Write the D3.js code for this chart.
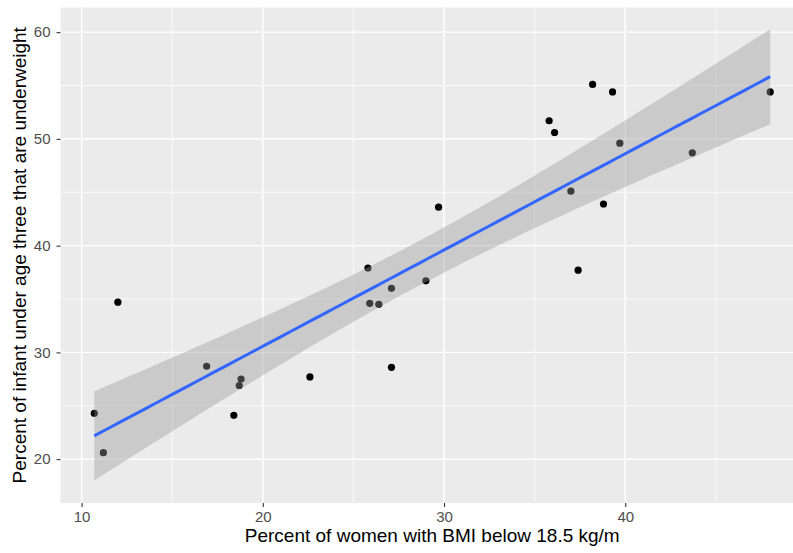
<!DOCTYPE html>
<html>
<head>
<meta charset="utf-8">
<script src="https://cdn.jsdelivr.net/npm/d3@7"></script>
<style>
  body { margin: 0; background: #fff; }
  svg { display: block; font-family: "Liberation Sans", Arial, sans-serif; }
</style>
</head>
<body>
<svg></svg>
<script>
// women with BMI < 18.5 (%) vs. infants under three underweight (%)
var womenBMI = [10.7, 11.2, 12.0, 16.9, 18.4, 18.7, 18.8, 22.6, 25.8, 25.9, 26.4, 27.1, 27.1,
                29.0, 29.7, 35.8, 36.1, 37.0, 37.4, 38.2, 38.8, 39.3, 39.7, 43.7, 48.0];
var infantUnder = [24.3, 20.6, 34.7, 28.7, 24.1, 26.9, 27.5, 27.7, 37.9, 34.6, 34.5, 36.0, 28.6,
                   36.7, 43.6, 51.7, 50.6, 45.1, 37.7, 55.1, 43.9, 54.4, 49.6, 48.7, 54.4];
var xTicks = [10, 20, 30, 40];
var yTicks = [20, 30, 40, 50, 60];
var xMinor = [15, 25, 35, 45];
var yMinor = [25, 35, 45, 55];

var width = 793, height = 553;
var margin = {left: 60.5, top: 7.5, right: -11, bottom: 50};

var data = womenBMI.map(function(d, i){ return {x: d, y: infantUnder[i]}; });

// linear fit + 95% confidence band, like geom_smooth(method = "lm")
var n = data.length;
var mx = d3.mean(data, function(d){return d.x;});
var my = d3.mean(data, function(d){return d.y;});
var sxx = d3.sum(data, function(d){return (d.x-mx)*(d.x-mx);});
var sxy = d3.sum(data, function(d){return (d.x-mx)*(d.y-my);});
var slope = sxy / sxx;
var icpt = my - slope * mx;
var sse = d3.sum(data, function(d){var r = d.y - (icpt + slope*d.x); return r*r;});
var se = Math.sqrt(sse / (n - 2));
var tval = 2.0687; // qt(0.975, 23)
var xExt = d3.extent(womenBMI);
var fit = d3.range(80).map(function(i){
  var xv = xExt[0] + (xExt[1]-xExt[0]) * i / 79;
  var yh = icpt + slope * xv;
  var s = se * Math.sqrt(1/n + (xv-mx)*(xv-mx)/sxx);
  return {x: xv, y: yh, lo: yh - tval*s, hi: yh + tval*s};
});

var x = d3.scaleLinear()
  .domain([8.835, 49.865])
  .range([margin.left, width - margin.right]);
var y = d3.scaleLinear()
  .domain([15.89, 62.31])
  .range([height - margin.bottom, margin.top]);

var svg = d3.select("svg")
  .attr("width", width)
  .attr("height", height);

svg.append("rect")
  .attr("x", x.range()[0]).attr("y", y.range()[1])
  .attr("width", x.range()[1]-x.range()[0])
  .attr("height", y.range()[0]-y.range()[1])
  .attr("fill", "#EBEBEB");

var grid = svg.append("g");
grid.selectAll(".xmin").data(xMinor).enter().append("line")
  .attr("x1", function(d){return x(d);}).attr("x2", function(d){return x(d);})
  .attr("y1", y.range()[0]).attr("y2", y.range()[1])
  .attr("stroke", "#fff").attr("stroke-width", 0.7);
grid.selectAll(".ymin").data(yMinor).enter().append("line")
  .attr("y1", function(d){return y(d);}).attr("y2", function(d){return y(d);})
  .attr("x1", x.range()[0]).attr("x2", x.range()[1])
  .attr("stroke", "#fff").attr("stroke-width", 0.7);
grid.selectAll(".xmaj").data(xTicks).enter().append("line")
  .attr("x1", function(d){return x(d);}).attr("x2", function(d){return x(d);})
  .attr("y1", y.range()[0]).attr("y2", y.range()[1])
  .attr("stroke", "#fff").attr("stroke-width", 1.4);
grid.selectAll(".ymaj").data(yTicks).enter().append("line")
  .attr("y1", function(d){return y(d);}).attr("y2", function(d){return y(d);})
  .attr("x1", x.range()[0]).attr("x2", x.range()[1])
  .attr("stroke", "#fff").attr("stroke-width", 1.4);

// points first, ribbon drawn over them (as ggplot does)
svg.append("g").selectAll("circle").data(data).enter().append("circle")
  .attr("cx", function(d){return x(d.x);})
  .attr("cy", function(d){return y(d.y);})
  .attr("r", 3.6)
  .attr("fill", "#000");

var area = d3.area()
  .x(function(d){return x(d.x);})
  .y0(function(d){return y(d.lo);})
  .y1(function(d){return y(d.hi);});
svg.append("path")
  .attr("d", area(fit))
  .attr("fill", "#999999")
  .attr("fill-opacity", 0.4);

var line = d3.line()
  .x(function(d){return x(d.x);})
  .y(function(d){return y(d.y);});
svg.append("path")
  .attr("d", line(fit))
  .attr("fill", "none")
  .attr("stroke", "#3366FF")
  .attr("stroke-width", 3);

// axes
var xAxis = d3.axisBottom(x).tickValues(xTicks).tickSize(4).tickPadding(4);
var yAxis = d3.axisLeft(y).tickValues(yTicks).tickSize(4).tickPadding(6);

var gx = svg.append("g")
  .attr("transform", "translate(0," + y.range()[0] + ")")
  .call(xAxis);
var gy = svg.append("g")
  .attr("transform", "translate(" + x.range()[0] + ",0)")
  .call(yAxis);
[gx, gy].forEach(function(g){
  g.select(".domain").remove();
  g.selectAll(".tick line").attr("stroke", "#333333").attr("stroke-width", 1.1);
  g.selectAll(".tick text").attr("fill", "#4D4D4D")
    .style("font-size", "15px").style("font-family", "Liberation Sans, Arial, sans-serif");
});

svg.append("text")
  .attr("x", (x.range()[0] + 804) / 2)
  .attr("y", 542)
  .attr("text-anchor", "middle")
  .style("font-size", "19px")
  .attr("fill", "#000")
  .text("Percent of women with BMI below 18.5 kg/m");

svg.append("text")
  .attr("transform", "translate(26," + ((y.range()[0] + y.range()[1]) / 2) + ") rotate(-90)")
  .attr("text-anchor", "middle")
  .style("font-size", "19px")
  .attr("fill", "#000")
  .text("Percent of infant under age three that are underweight");
</script>
</body>
</html>
